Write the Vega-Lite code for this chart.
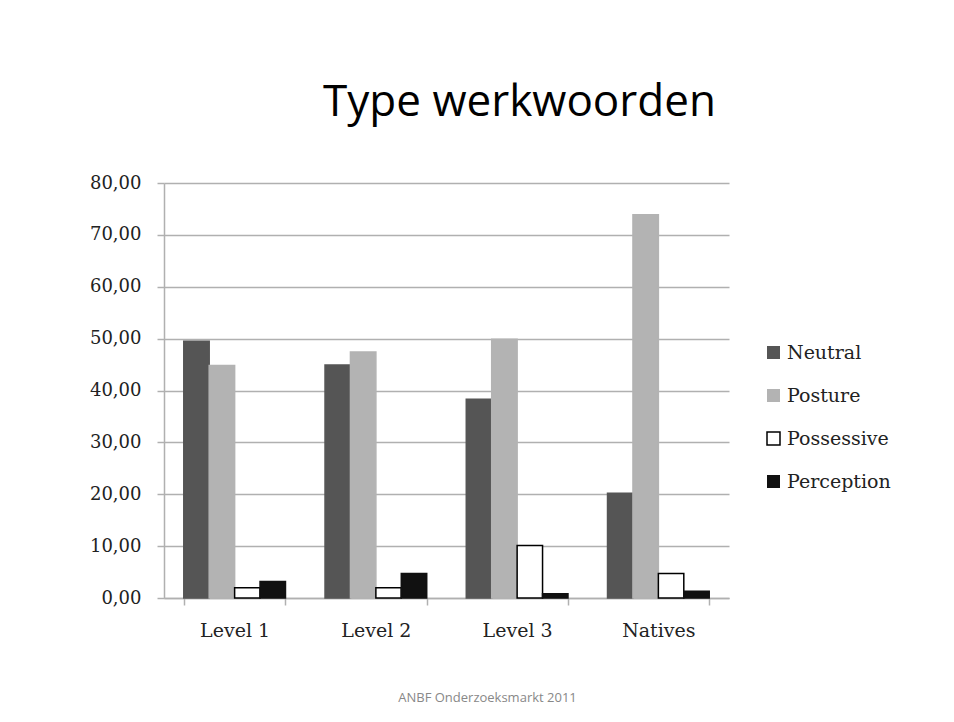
{
  "$schema": "https://vega.github.io/schema/vega-lite/v6.json",
  "autosize": "none",
  "width": 565,
  "height": 415,
  "padding": {"left": 164, "top": 183, "right": 225, "bottom": 124},
  "background": "white",
  "title": {
    "text": "Type werkwoorden",
    "font": "Open Sans",
    "fontSize": 44,
    "fontWeight": "normal",
    "color": "#000000",
    "anchor": "middle",
    "frame": "group",
    "dx": 73,
    "baseline": "alphabetic",
    "offset": 14
  },
  "data": {
    "values": [
      {"level": "Level 1", "type": "Neutral", "value": 49.5},
      {"level": "Level 1", "type": "Posture", "value": 44.8},
      {"level": "Level 1", "type": "Possessive", "value": 2.0},
      {"level": "Level 1", "type": "Perception", "value": 3.2},
      {"level": "Level 2", "type": "Neutral", "value": 44.9},
      {"level": "Level 2", "type": "Posture", "value": 47.4},
      {"level": "Level 2", "type": "Possessive", "value": 2.0},
      {"level": "Level 2", "type": "Perception", "value": 4.7},
      {"level": "Level 3", "type": "Neutral", "value": 38.3},
      {"level": "Level 3", "type": "Posture", "value": 49.9},
      {"level": "Level 3", "type": "Possessive", "value": 10.1},
      {"level": "Level 3", "type": "Perception", "value": 0.8},
      {"level": "Natives", "type": "Neutral", "value": 20.2},
      {"level": "Natives", "type": "Posture", "value": 73.9},
      {"level": "Natives", "type": "Possessive", "value": 4.7},
      {"level": "Natives", "type": "Perception", "value": 1.3}
    ]
  },
  "mark": {"type": "bar", "strokeWidth": 1.5},
  "encoding": {
    "x": {
      "field": "level",
      "type": "nominal",
      "sort": ["Level 1", "Level 2", "Level 3", "Natives"],
      "scale": {"paddingInner": 0.28, "paddingOuter": 0.14},
      "axis": {
        "title": "ANBF Onderzoeksmarkt 2011",
        "titleFont": "Open Sans",
        "titleFontSize": 13,
        "titleFontWeight": "normal",
        "titleColor": "#888888",
        "titleX": 323,
        "titleAlign": "center",
        "titlePadding": 51,
        "labelAngle": 0,
        "labelFont": "DejaVu Serif",
        "labelFontSize": 19,
        "labelColor": "#222222",
        "labelPadding": 16,
        "tickBand": "extent",
        "tickSize": 7,
        "tickColor": "#b0b0b0",
        "tickWidth": 1.5,
        "domainColor": "#b0b0b0",
        "domainWidth": 1.5,
        "grid": false
      }
    },
    "xOffset": {
      "field": "type",
      "type": "nominal",
      "sort": ["Neutral", "Posture", "Possessive", "Perception"],
      "scale": {"paddingInner": 0, "paddingOuter": 0}
    },
    "y": {
      "field": "value",
      "type": "quantitative",
      "scale": {"domain": [0, 80], "nice": false},
      "axis": {
        "title": null,
        "values": [0, 10, 20, 30, 40, 50, 60, 70, 80],
        "labelExpr": "replace(format(datum.value, '.2f'), '.', ',')",
        "labelFont": "DejaVu Serif",
        "labelFontSize": 18,
        "labelColor": "#222222",
        "labelPadding": 16,
        "tickSize": 7,
        "tickColor": "#b0b0b0",
        "tickWidth": 1.5,
        "domainColor": "#b0b0b0",
        "domainWidth": 1.5,
        "grid": true,
        "gridColor": "#b0b0b0",
        "gridWidth": 1.5
      }
    },
    "fill": {
      "field": "type",
      "type": "nominal",
      "sort": ["Neutral", "Posture", "Possessive", "Perception"],
      "scale": {"range": ["#555555", "#b3b3b3", "#ffffff", "#111111"]},
      "legend": {
        "title": null,
        "orient": "none",
        "legendX": 600,
        "legendY": 160,
        "symbolType": "square",
        "symbolSize": 169,
        "symbolStrokeWidth": 1.5,
        "labelFont": "DejaVu Serif",
        "labelFontSize": 19,
        "labelColor": "#222222",
        "labelOffset": 4,
        "rowPadding": 23,
        "encode": {
          "symbols": {
            "update": {
              "stroke": {"signal": "datum.value === 'Possessive' ? '#000000' : 'transparent'"}
            }
          }
        }
      }
    },
    "stroke": {
      "field": "type",
      "type": "nominal",
      "sort": ["Neutral", "Posture", "Possessive", "Perception"],
      "scale": {"range": ["#555555", "#b3b3b3", "#000000", "#111111"]},
      "legend": null
    }
  },
  "config": {
    "view": {"stroke": null}
  }
}
